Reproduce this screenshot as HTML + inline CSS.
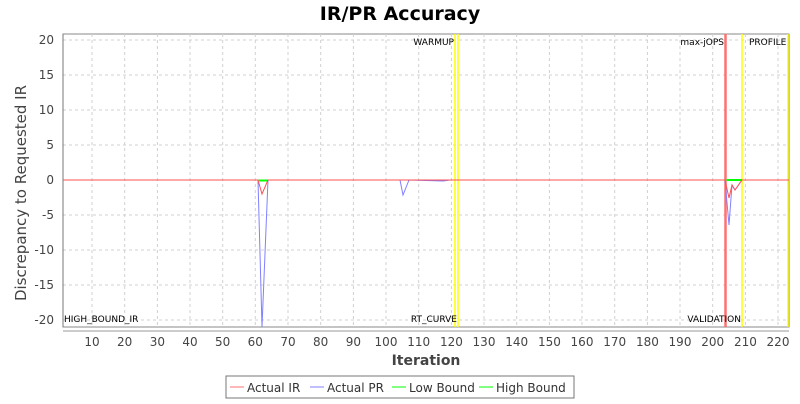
<!DOCTYPE html>
<html><head><style>body{margin:0;background:#fff;font-family:"DejaVu Sans","Liberation Sans",sans-serif}</style></head>
<body>
<svg width="800" height="400" xmlns="http://www.w3.org/2000/svg" font-family="DejaVu Sans, Liberation Sans, sans-serif">
<rect width="800" height="400" fill="#fff"/>
<text x="400" y="20" text-anchor="middle" font-size="19" font-weight="bold" fill="#000">IR/PR Accuracy</text>
<rect x="63" y="34" width="726" height="293" fill="#fff" stroke="#888" stroke-width="1"/>
<g stroke="#d0d0d0" stroke-dasharray="3,3" stroke-width="1">
<line x1="63" x2="789" y1="40" y2="40"/><line x1="63" x2="789" y1="75" y2="75"/><line x1="63" x2="789" y1="110" y2="110"/><line x1="63" x2="789" y1="145" y2="145"/><line x1="63" x2="789" y1="215" y2="215"/><line x1="63" x2="789" y1="250" y2="250"/><line x1="63" x2="789" y1="285" y2="285"/><line x1="63" x2="789" y1="320" y2="320"/>
<line x1="92" x2="92" y1="34" y2="327"/><line x1="124.7" x2="124.7" y1="34" y2="327"/><line x1="157.4" x2="157.4" y1="34" y2="327"/><line x1="190" x2="190" y1="34" y2="327"/><line x1="222.7" x2="222.7" y1="34" y2="327"/><line x1="255.3" x2="255.3" y1="34" y2="327"/><line x1="288" x2="288" y1="34" y2="327"/><line x1="320.7" x2="320.7" y1="34" y2="327"/><line x1="353.4" x2="353.4" y1="34" y2="327"/><line x1="386" x2="386" y1="34" y2="327"/><line x1="418.7" x2="418.7" y1="34" y2="327"/><line x1="451.4" x2="451.4" y1="34" y2="327"/><line x1="484" x2="484" y1="34" y2="327"/><line x1="516.7" x2="516.7" y1="34" y2="327"/><line x1="549.4" x2="549.4" y1="34" y2="327"/><line x1="582" x2="582" y1="34" y2="327"/><line x1="614.7" x2="614.7" y1="34" y2="327"/><line x1="647.4" x2="647.4" y1="34" y2="327"/><line x1="680" x2="680" y1="34" y2="327"/><line x1="712.7" x2="712.7" y1="34" y2="327"/><line x1="745.4" x2="745.4" y1="34" y2="327"/><line x1="778" x2="778" y1="34" y2="327"/>
</g>
<line x1="63" x2="63" y1="34" y2="327" stroke="#777"/>
<line x1="455" x2="455" y1="34" y2="327" stroke="#ffff00" stroke-width="1.5"/>
<line x1="458" x2="458" y1="34" y2="327" stroke="#ffff00" stroke-width="1.5"/>
<line x1="742" x2="742" y1="34" y2="327" stroke="#ffff00" stroke-width="1.5"/>
<line x1="788" x2="788" y1="34" y2="327" stroke="#ffff00" stroke-width="1.5"/>
<line x1="725.5" x2="725.5" y1="34" y2="327" stroke="#ff7070" stroke-width="2.5"/>
<g font-size="9" fill="#000">
<text x="454" y="45" text-anchor="end">WARMUP</text>
<text x="724" y="45" text-anchor="end">max-jOPS</text>
<text x="749" y="45">PROFILE</text>
<text x="64" y="322">HIGH_BOUND_IR</text>
<text x="457" y="322" text-anchor="end">RT_CURVE</text>
<text x="741" y="322" text-anchor="end">VALIDATION</text>
</g>
<polyline fill="none" stroke="#00ff00" stroke-width="1" points="63,180 789,180"/>
<line x1="259" x2="268" y1="180.5" y2="180.5" stroke="#00ff00" stroke-width="2"/>
<line x1="727" x2="742" y1="180" y2="180" stroke="#00ff00" stroke-width="2"/>
<polyline fill="none" stroke="#8080ff" stroke-width="1" points="63,180 258,180 262,327 268,180 400,180 403,195 409,180 443,181 450,180 725,180 729,225 732,185 735,190 742,180 789,180"/>
<polyline fill="none" stroke="#ff5050" stroke-width="1" points="63,180 258,180 262,194 268,180 725,180 729,198 732,185 735,190 742,180 789,180"/>
<g font-size="12" fill="#444" text-anchor="end">
<text x="54" y="44">20</text><text x="54" y="79">15</text><text x="54" y="114">10</text><text x="54" y="149">5</text><text x="54" y="184">0</text><text x="54" y="219">-5</text><text x="54" y="254">-10</text><text x="54" y="289">-15</text><text x="54" y="324">-20</text>
</g>
<g stroke="#999"><line x1="63" x2="789" y1="331" y2="331"/></g>
<g font-size="12" fill="#444" text-anchor="middle">
<text x="92" y="346">10</text><text x="124.7" y="346">20</text><text x="157.4" y="346">30</text><text x="190" y="346">40</text><text x="222.7" y="346">50</text><text x="255.3" y="346">60</text><text x="288" y="346">70</text><text x="320.7" y="346">80</text><text x="353.4" y="346">90</text><text x="386" y="346">100</text><text x="418.7" y="346">110</text><text x="451.4" y="346">120</text><text x="484" y="346">130</text><text x="516.7" y="346">140</text><text x="549.4" y="346">150</text><text x="582" y="346">160</text><text x="614.7" y="346">170</text><text x="647.4" y="346">180</text><text x="680" y="346">190</text><text x="712.7" y="346">200</text><text x="745.4" y="346">210</text><text x="778" y="346">220</text>
</g>
<text x="426" y="365" text-anchor="middle" font-size="14" font-weight="bold" fill="#444">Iteration</text>
<text transform="translate(26,193) rotate(-90)" text-anchor="middle" font-size="15" fill="#444">Discrepancy to Requested IR</text>
<rect x="226" y="376" width="348" height="22" fill="#fff" stroke="#777"/>
<g font-size="12" fill="#333">
<line x1="230" x2="244" y1="387" y2="387" stroke="#ff7070"/><text x="247" y="392">Actual IR</text>
<line x1="310" x2="324" y1="387" y2="387" stroke="#8080ff"/><text x="327" y="392">Actual PR</text>
<line x1="392" x2="406" y1="387" y2="387" stroke="#00ff00"/><text x="409" y="392">Low Bound</text>
<line x1="479" x2="493" y1="387" y2="387" stroke="#00ff00"/><text x="496" y="392">High Bound</text>
</g>
</svg>
</body></html>
